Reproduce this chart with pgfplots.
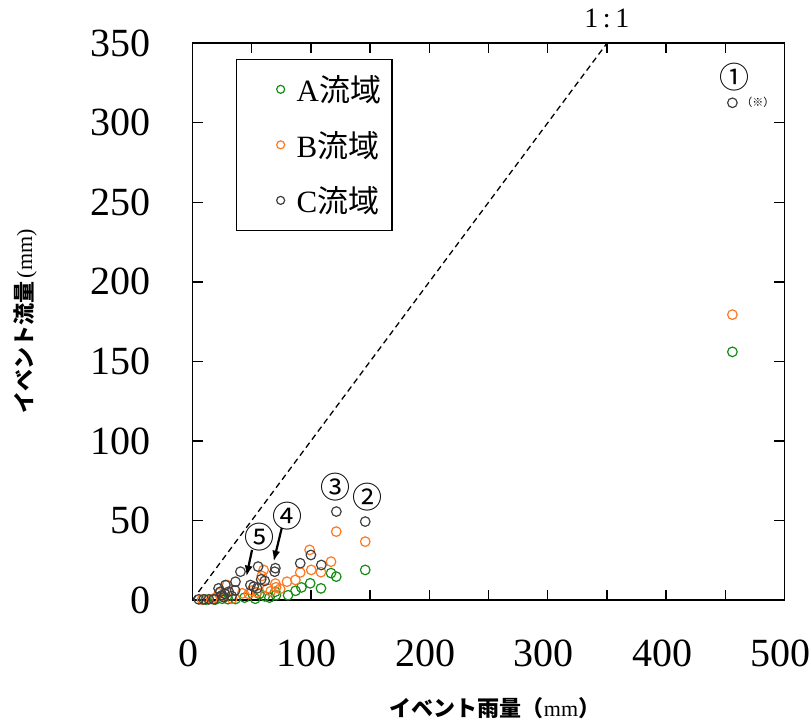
\documentclass[border=0pt]{standalone}
\usepackage{fontspec}
\setmainfont{Liberation Serif}
\newfontfamily\cjk{Noto Sans CJK JP}
\usepackage{pgfplots}
\pgfplotsset{compat=1.18}
\usetikzlibrary{arrows.meta}

\definecolor{serA}{RGB}{20,140,20}
\definecolor{serB}{RGB}{255,120,30}
\definecolor{serC}{RGB}{64,64,64}

% event rainfall (mm) vs event runoff (mm)
\pgfplotstableread{
x y
456 156
145.9 18.9
117 16.9
121.4 14.7
99.4 10.5
108.5 7.3
92 7.9
87 5.8
80.7 3.0
70.5 3.0
69.9 5.2
61 2.3
56.5 3.8
53 0.8
36.3 0.6
44 1.5
30 0.5
19.4 0.3
11.2 0.2
25 0.8
65 1.5
}\dataA
\pgfplotstableread{
x y
456 179.4
121.4 43
145.9 36.7
98.9 31.5
117 24.1
100.3 18.9
108.5 17.5
91 17.3
86.9 12.6
79.8 11.5
70 10.3
70.6 8
63.2 7.3
60.1 18.9
58.5 15.1
50.3 5.9
47.5 3.8
54.5 4.8
42 4.2
29.2 9.4
22.2 4.2
16.6 0.6
33.5 0.8
25 2.5
8 0.2
20 1.5
66 5.5
74 7
}\dataB
\pgfplotstableread{
x y
456 312.6
121.5 55.6
145.9 49.3
100 28.3
91 23.1
108.8 22
70 20
69.4 17.8
55.4 21
40.5 17.8
61 12
36.3 11.5
27.8 9.4
22 7.3
48.9 9.4
51.7 8.4
54.5 7.3
30.6 5.2
27.3 3.8
25 3
23.5 5.2
5.3 0.4
9.5 0.4
13.8 0.4
18 0.4
26.4 1.7
33 2.5
58 13
36 6
}\dataC

\begin{document}
\begin{tikzpicture}
\path[use as bounding box] (-192.5pt,-122pt) rectangle (618.5pt,600pt);
\begin{axis}[
  at={(0,0)}, anchor=south west,
  width=592pt, height=556.7pt, scale only axis,
  xmin=0, xmax=500, ymin=0, ymax=350,
  clip=false,
  xtick={0,50,...,500},
  xticklabels={0,,100,,200,,300,,400,,500},
  ytick={0,50,...,350},
  tick align=inside,
  major tick length=10pt,
  every tick/.style={black, line width=1.3pt},
  axis line style={line width=1.8pt},
  /pgf/number format/assume math mode=true,
  tick label style={font=\fontsize{40}{44}\selectfont},
  yticklabel style={xshift=-38pt},
  xticklabel style={yshift=-36pt, xshift=-4pt},
  xlabel={{\cjk\bfseries イベント雨量（}mm{\cjk\bfseries ）}},
  ylabel={{\cjk\bfseries イベント流量}\,(mm)},
  label style={font=\fontsize{22}{26}\selectfont},
  xlabel style={at={(axis description cs:0.511,-0.194)}, anchor=center},
  ylabel style={at={(axis description cs:-0.283,0.5)}, anchor=center, rotate=0},
  legend style={at={(axis description cs:0.0735,0.972)}, anchor=north west,
    draw=black, line width=1.3pt, inner xsep=40pt, inner ysep=14pt,
    row sep=24pt, column sep=10pt, font=\fontsize{31}{35}\selectfont},
  legend cell align=left,
  legend image post style={mark size=4pt},
]
\addplot[only marks, mark=o, mark size=4.8pt, serA, line width=1.2pt] table {\dataA};
\addlegendentry{A{\cjk 流域}\hspace*{-31pt}}
\addplot[only marks, mark=o, mark size=4.8pt, serB, line width=1.2pt] table {\dataB};
\addlegendentry{B{\cjk 流域}\hspace*{-31pt}}
\addplot[only marks, mark=o, mark size=4.8pt, serC, line width=1.2pt] table {\dataC};
\addlegendentry{C{\cjk 流域}\hspace*{-31pt}}
% one-to-one reference line
\addplot[black, line width=1.3pt, dash pattern=on 6pt off 4pt, forget plot] coordinates {(0,0) (350,350)};
\node[font=\fontsize{28}{32}\selectfont] at (axis description cs:0.700,1.0455) {1\,:\,1};
% event annotations
\node[font=\cjk\fontsize{30}{34}\selectfont] at (axis cs:457.8,329) {①};
\node[font=\cjk\fontsize{11}{13}\selectfont] at (axis cs:477.6,312.6) {（※）};
\node[font=\cjk\fontsize{30}{34}\selectfont] at (axis cs:147.6,64.8) {②};
\node[font=\cjk\fontsize{30}{34}\selectfont] at (axis cs:120.6,71.1) {③};
\node[font=\cjk\fontsize{30}{34}\selectfont] at (axis cs:80,52.9) {④};
\node[font=\cjk\fontsize{30}{34}\selectfont] at (axis cs:56.5,39.6) {⑤};
\draw[-{Latex[length=11pt,width=8pt]}, line width=2.2pt] (axis cs:75.4,45.3) -- (axis cs:68.5,24.1);
\draw[-{Latex[length=11pt,width=8pt]}, line width=2.2pt] (axis cs:50.3,31.5) -- (axis cs:45.5,14.7);
\end{axis}
\end{tikzpicture}
\end{document}
